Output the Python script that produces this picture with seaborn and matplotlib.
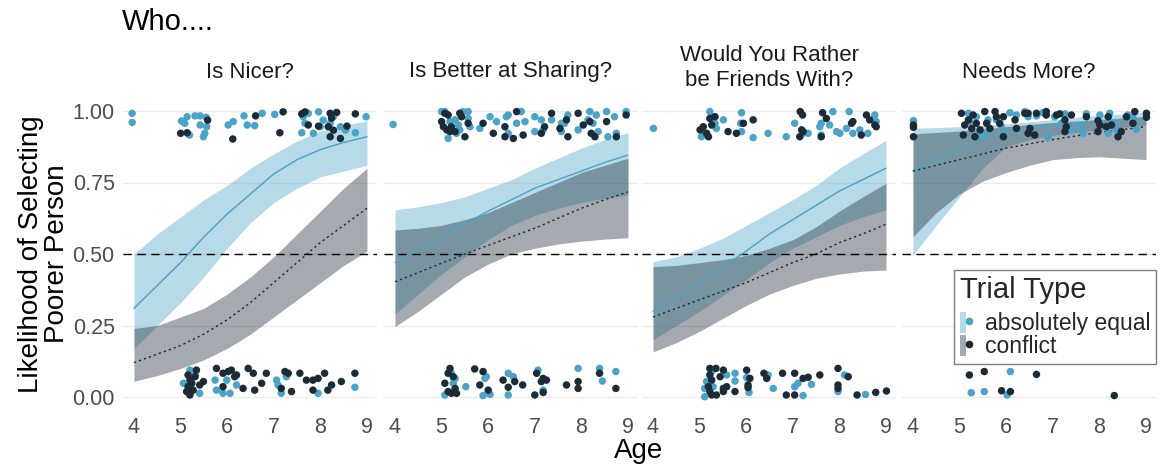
import numpy as np
import pandas as pd
import matplotlib
matplotlib.use("Agg")
import matplotlib.pyplot as plt
import seaborn as sns
from matplotlib.patches import Patch
from matplotlib.lines import Line2D
from matplotlib.legend_handler import HandlerTuple

sns.set_style("white")
plt.rcParams['font.family'] = ['Liberation Sans', 'DejaVu Sans']

# ---------------- data ----------------
panel_titles = ["Is Nicer?", "Is Better at Sharing?", "Would You Rather\nbe Friends With?", "Needs More?"]
trial_types = ["absolutely equal", "conflict"]
y_ticks = [0.0, 0.25, 0.5, 0.75, 1.0]
y_tick_labels = ["0.00", "0.25", "0.50", "0.75", "1.00"]
x_ticks = [4, 5, 6, 7, 8, 9]

fit_ages = [4, 4.5, 5, 5.5, 6, 6.5, 7, 7.5, 8, 8.5, 9]

# Is Nicer?
nicer_eq_fit = [0.31, 0.39, 0.47, 0.56, 0.64, 0.71, 0.78, 0.83, 0.865, 0.89, 0.91]
nicer_eq_lo = [0.17, 0.25, 0.33, 0.42, 0.52, 0.61, 0.68, 0.73, 0.77, 0.79, 0.81]
nicer_eq_hi = [0.50, 0.57, 0.63, 0.69, 0.74, 0.80, 0.85, 0.895, 0.93, 0.95, 0.965]
nicer_cf_fit = [0.12, 0.15, 0.18, 0.22, 0.27, 0.33, 0.40, 0.47, 0.54, 0.60, 0.66]
nicer_cf_lo = [0.055, 0.075, 0.10, 0.13, 0.17, 0.22, 0.28, 0.34, 0.40, 0.46, 0.51]
nicer_cf_hi = [0.24, 0.25, 0.28, 0.31, 0.36, 0.42, 0.49, 0.57, 0.65, 0.73, 0.80]

# Is Better at Sharing?
share_eq_fit = [0.47, 0.515, 0.56, 0.605, 0.65, 0.69, 0.73, 0.76, 0.79, 0.82, 0.846]
share_eq_lo = [0.29, 0.36, 0.43, 0.49, 0.55, 0.60, 0.635, 0.66, 0.68, 0.695, 0.706]
share_eq_hi = [0.654, 0.665, 0.68, 0.70, 0.73, 0.76, 0.80, 0.835, 0.87, 0.90, 0.924]
share_cf_fit = [0.403, 0.435, 0.468, 0.50, 0.53, 0.56, 0.59, 0.625, 0.66, 0.69, 0.717]
share_cf_lo = [0.246, 0.30, 0.36, 0.42, 0.465, 0.50, 0.52, 0.535, 0.545, 0.552, 0.557]
share_cf_hi = [0.584, 0.59, 0.60, 0.62, 0.645, 0.68, 0.715, 0.75, 0.785, 0.81, 0.835]

# Would You Rather be Friends With?
friend_eq_fit = [0.30, 0.35, 0.40, 0.455, 0.51, 0.57, 0.62, 0.67, 0.72, 0.76, 0.80]
friend_eq_lo = [0.20, 0.25, 0.30, 0.355, 0.41, 0.47, 0.52, 0.56, 0.60, 0.63, 0.654]
friend_eq_hi = [0.473, 0.49, 0.52, 0.555, 0.60, 0.645, 0.69, 0.74, 0.80, 0.85, 0.897]
friend_cf_fit = [0.28, 0.31, 0.34, 0.37, 0.40, 0.435, 0.47, 0.50, 0.54, 0.57, 0.604]
friend_cf_lo = [0.158, 0.19, 0.23, 0.275, 0.32, 0.36, 0.39, 0.415, 0.43, 0.44, 0.444]
friend_cf_hi = [0.456, 0.46, 0.47, 0.48, 0.495, 0.52, 0.55, 0.595, 0.65, 0.70, 0.747]

# Needs More?
needs_eq_fit = [0.79, 0.835, 0.87, 0.90, 0.92, 0.937, 0.95, 0.958, 0.965, 0.971, 0.975]
needs_eq_lo = [0.497, 0.60, 0.70, 0.80, 0.875, 0.90, 0.915, 0.925, 0.935, 0.943, 0.95]
needs_eq_hi = [0.94, 0.942, 0.945, 0.95, 0.955, 0.962, 0.97, 0.978, 0.985, 0.99, 0.995]
needs_cf_fit = [0.79, 0.81, 0.83, 0.85, 0.87, 0.885, 0.90, 0.913, 0.925, 0.935, 0.945]
needs_cf_lo = [0.56, 0.645, 0.71, 0.755, 0.785, 0.81, 0.83, 0.837, 0.84, 0.835, 0.83]
needs_cf_hi = [0.92, 0.925, 0.93, 0.937, 0.945, 0.953, 0.96, 0.965, 0.97, 0.975, 0.98]

# jittered individual responses (age, response)
nicer_eq_pts = [(3.96,0.992),(3.96,0.960),(5.02,0.965),(5.14,0.980),(5.31,0.983),(5.42,0.983),(5.55,0.978),
    (5.09,0.957),(5.19,0.916),(5.42,0.951),(5.56,0.945),(5.52,0.922),(5.49,0.910),(6.02,0.951),(6.13,0.963),
    (6.36,0.983),(6.43,0.951),(6.59,0.949),(6.75,0.992),(7.02,0.988),(7.60,0.924),(7.67,0.957),(7.85,0.922),
    (7.96,0.997),(8.06,0.968),(8.21,0.957),(8.28,0.980),(8.43,0.945),(8.54,0.933),(7.74,0.992),(8.75,0.924),
    (8.98,0.980),(8.00,0.945),(7.63,0.980),
    (5.06,0.048),(5.20,0.094),(5.31,0.077),(5.41,0.013),(5.74,0.059),(5.77,0.024),(5.91,0.013),(5.99,0.059),
    (6.06,0.013),(6.20,0.042),(7.06,0.059),(7.09,0.042),(7.16,0.013),(7.27,0.071),(7.95,0.013),(8.74,0.034)]
nicer_cf_pts = [(5.00,0.922),(5.14,0.924),(5.58,0.968),(6.12,0.902),(6.61,0.983),(7.13,0.924),(7.20,0.997),
    (7.60,0.990),(7.67,0.997),(7.74,0.951),(7.96,0.947),(8.17,0.945),(8.21,0.992),(8.24,0.975),(8.28,0.933),
    (8.21,0.910),(8.35,0.995),(8.43,0.904),(8.57,0.947),(8.75,0.990),
    (5.16,0.077),(5.20,0.059),(5.16,0.036),(5.20,0.007),(5.27,0.024),(5.34,0.094),(5.41,0.042),(5.49,0.054),
    (5.77,0.100),(5.91,0.083),(5.91,0.036),(6.02,0.089),(6.09,0.094),(6.16,0.071),(6.20,0.077),(6.34,0.030),
    (6.45,0.100),(6.56,0.083),(6.59,0.024),(6.74,0.048),(6.84,0.083),(7.16,0.030),(7.24,0.089),(7.31,0.083),
    (7.38,0.019),(7.56,0.083),(7.70,0.059),(7.84,0.059),(7.84,0.024),(7.95,0.065),(8.09,0.083),(8.16,0.024),
    (8.24,0.042),(8.45,0.054),(8.74,0.083),(5.24,0.048),(5.13,0.019),(5.31,0.071)]

share_eq_pts = [(3.96,0.953),(5.00,0.998),(5.07,0.998),(5.18,0.963),(5.29,0.969),(5.14,0.904),(5.32,0.922),
    (5.39,0.934),(5.46,0.998),(5.57,0.998),(5.57,0.974),(5.61,0.945),(5.36,0.951),(5.82,0.939),(6.04,0.980),
    (6.18,0.963),(6.39,0.980),(6.43,0.986),(6.43,0.922),(6.61,0.957),(6.71,0.998),(6.79,0.963),(7.00,0.980),
    (7.00,0.928),(7.18,0.934),(7.14,0.969),(7.36,0.969),(7.57,0.957),(7.57,0.928),(7.64,0.957),(7.71,0.986),
    (7.93,0.934),(8.14,0.969),(8.18,0.998),(8.25,0.957),(8.32,0.986),(8.36,0.928),(8.54,0.998),(8.57,0.910),
    (8.71,0.980),(8.75,0.922),(8.96,0.998),
    (5.21,0.083),(5.29,0.065),(5.25,0.048),(5.07,0.007),(5.52,0.036),(5.89,0.005),(6.04,0.009),(5.93,0.065),
    (5.96,0.071),(6.43,0.083),(6.54,0.071),(6.43,0.007),(7.07,0.094),(7.18,0.024),(7.93,0.100),(8.39,0.100),
    (8.45,0.056),(8.74,0.089)]
share_cf_pts = [(5.07,0.992),(5.14,0.986),(5.00,0.963),(5.04,0.945),(5.11,0.934),(5.21,0.945),(5.18,0.928),
    (5.43,0.980),(5.50,0.910),(5.57,0.957),(5.39,0.992),(5.29,0.928),(5.89,0.957),(6.11,0.922),(6.36,0.945),
    (6.36,0.910),(6.54,0.904),(6.61,0.998),(6.75,0.916),(7.14,0.922),(7.21,0.945),(7.36,0.992),(7.54,0.939),
    (7.71,0.910),(7.93,0.992),(8.04,0.951),(8.18,0.963),(8.21,0.922),(8.29,0.910),(8.54,0.963),(8.75,0.910),
    (8.96,0.986),(7.68,0.969),
    (5.18,0.100),(5.14,0.083),(5.07,0.048),(5.25,0.071),(5.14,0.019),(5.21,0.013),(5.32,0.013),(5.29,0.030),
    (5.71,0.098),(5.89,0.089),(5.82,0.042),(6.00,0.024),(6.32,0.059),(6.43,0.034),(6.57,0.054),(6.74,0.042),
    (7.04,0.083),(7.18,0.065),(7.25,0.059),(7.14,0.054),(7.18,0.016),(7.00,0.007),(7.68,0.042),(7.93,0.054),
    (7.93,0.030),(8.39,0.083),(8.74,0.030)]

friend_eq_pts = [(4.01,0.939),(5.22,0.998),(5.26,0.980),(5.33,0.957),(5.04,0.910),(5.11,0.922),(5.36,0.939),
    (5.51,0.969),(5.90,0.994),(5.88,0.957),(5.90,0.928),(6.15,0.907),(6.47,0.922),(6.86,0.910),(7.04,0.957),
    (7.22,0.922),(7.33,0.922),(7.61,0.957),(7.61,0.916),(7.58,0.945),(7.86,0.998),(7.79,0.951),(7.94,0.928),
    (8.01,0.922),(8.21,0.998),(8.15,0.939),(8.29,0.922),(8.44,0.934),(8.61,0.922),(8.76,0.986),(8.79,0.963),
    (5.26,0.089),(5.15,0.054),(5.11,0.030),(5.11,0.001),(5.29,0.036),(5.58,0.077),(5.76,0.083),(5.76,0.056),
    (6.01,0.068),(6.06,0.016),(6.47,0.077),(6.58,0.030),(7.04,0.036),(7.11,0.048),(7.22,0.005),(7.40,0.044),
    (8.11,0.077),(7.97,0.019),(8.56,0.009)]
friend_cf_pts = [(5.22,0.974),(5.33,0.980),(5.08,0.945),(5.15,0.922),(5.01,0.934),(5.19,0.910),(5.26,0.951),
    (5.61,0.928),(5.79,0.922),(5.94,0.957),(6.15,0.969),(7.16,0.998),(7.21,0.986),(7.19,0.934),(7.15,0.910),
    (7.22,0.928),(7.64,0.994),(7.61,0.910),(7.72,0.974),(8.26,0.957),(8.29,0.963),(8.58,0.986),(8.65,0.969),
    (8.76,0.951),(8.79,0.945),(8.47,0.916),
    (5.22,0.100),(5.35,0.100),(5.22,0.077),(5.26,0.059),(5.51,0.094),(5.44,0.071),(5.19,0.036),(5.22,0.019),
    (5.26,0.007),(5.36,0.007),(5.51,0.030),(5.58,0.036),(5.51,0.019),(5.76,0.019),(6.01,0.094),(6.08,0.065),
    (6.04,0.042),(6.04,0.033),(6.38,0.083),(6.44,0.065),(6.78,0.083),(7.04,0.083),(6.86,0.007),(7.04,0.007),
    (7.22,0.065),(7.33,0.069),(7.58,0.077),(7.97,0.100),(8.19,0.071),(7.97,0.042),(7.97,0.030),(8.38,0.007),
    (8.78,0.016),(9.01,0.021)]

needs_eq_pts = [(4.01,0.966),(5.19,0.992),(5.22,0.963),(5.36,0.980),(5.44,0.916),(5.54,0.922),(5.61,0.969),
    (5.79,0.969),(5.90,0.945),(5.94,0.922),(6.08,0.994),(6.22,0.986),(6.40,0.998),(6.47,0.980),(6.58,0.922),
    (6.65,0.983),(6.79,0.994),(6.90,0.908),(7.04,0.980),(7.19,0.957),(7.26,0.990),(7.40,0.934),(7.61,0.945),
    (7.65,0.922),(7.72,0.990),(8.01,0.986),(8.22,0.992),(8.19,0.922),(8.29,0.957),(8.36,0.934),(8.61,0.986),
    (8.72,0.978),(8.79,0.936),
    (5.25,0.015),(5.53,0.019),(6.09,0.089),(6.02,0.007)]
needs_cf_pts = [(4.01,0.951),(4.01,0.943),(4.01,0.910),(5.04,0.992),(5.11,0.951),(5.19,0.969),(5.26,0.939),
    (5.29,0.986),(5.33,0.910),(5.08,0.916),(5.36,0.957),(5.44,0.934),(5.54,0.998),(5.58,0.957),(5.65,0.939),
    (5.76,0.998),(5.79,0.980),(5.86,0.957),(5.94,0.980),(5.94,0.910),(6.19,0.969),(6.22,0.939),(6.40,0.992),
    (6.47,0.992),(6.51,0.939),(6.47,0.922),(6.61,0.916),(6.65,0.992),(6.86,0.998),(7.08,0.986),(7.15,0.990),
    (7.26,0.969),(7.26,0.928),(7.29,0.945),(7.40,0.986),(7.72,0.980),(7.97,0.966),(8.01,0.951),(8.19,0.980),
    (8.15,0.945),(8.26,0.951),(8.40,0.910),(8.47,0.928),(8.58,0.980),(8.76,0.998),(8.72,0.957),(9.01,0.992),
    (9.01,0.978),(7.97,0.928),(6.86,0.986),
    (5.21,0.077),(5.53,0.089),(6.65,0.079),(5.90,0.022),(6.09,0.019),(8.32,0.005)]

fits = [
    (nicer_eq_fit, nicer_eq_lo, nicer_eq_hi, nicer_cf_fit, nicer_cf_lo, nicer_cf_hi),
    (share_eq_fit, share_eq_lo, share_eq_hi, share_cf_fit, share_cf_lo, share_cf_hi),
    (friend_eq_fit, friend_eq_lo, friend_eq_hi, friend_cf_fit, friend_cf_lo, friend_cf_hi),
    (needs_eq_fit, needs_eq_lo, needs_eq_hi, needs_cf_fit, needs_cf_lo, needs_cf_hi),
]
points = [(nicer_eq_pts, nicer_cf_pts), (share_eq_pts, share_cf_pts),
          (friend_eq_pts, friend_cf_pts), (needs_eq_pts, needs_cf_pts)]

# ---------------- style ----------------
c_eq = "#4ba3c7"
c_cf = "#1c2b38"
palette = {trial_types[0]: c_eq, trial_types[1]: c_cf}
ribbon_alpha = 0.4
tick_color = "#4d4d4d"
grid_color = "#ebebeb"

W, H = 1162, 466
fig = plt.figure(figsize=(W / 100, H / 100), dpi=100)

panel_left_px = [123, 384, 642, 902]
panel_w_px = 254
panel_top_px, panel_bot_px = 96.7, 411.3

axes = []
for i in range(4):
    ax = fig.add_axes([panel_left_px[i] / W, 1 - panel_bot_px / H,
                       panel_w_px / W, (panel_bot_px - panel_top_px) / H])
    axes.append(ax)
    eq_fit, eq_lo, eq_hi, cf_fit, cf_lo, cf_hi = fits[i]

    # ribbons
    ax.fill_between(fit_ages, eq_lo, eq_hi, color=c_eq, alpha=ribbon_alpha, lw=0, zorder=1)
    ax.fill_between(fit_ages, cf_lo, cf_hi, color=c_cf, alpha=ribbon_alpha, lw=0, zorder=1.1)

    # fitted lines
    fit_df = pd.DataFrame({
        "age": list(fit_ages) * 2,
        "prob": list(eq_fit) + list(cf_fit),
        "type": [trial_types[0]] * len(fit_ages) + [trial_types[1]] * len(fit_ages),
    })
    sns.lineplot(data=fit_df, x="age", y="prob", hue="type", style="type", palette=palette,
                 dashes={trial_types[0]: "", trial_types[1]: (1.6, 2.2)}, linewidth=1.0,
                 legend=False, ax=ax, zorder=3)

    ax.axhline(0.5, color="black", lw=1.0, ls=(0, (6, 4)), zorder=2.5)

    # points
    eq_pts, cf_pts = points[i]
    pt_df = pd.DataFrame(
        [(a, v, trial_types[0]) for a, v in eq_pts] + [(a, v, trial_types[1]) for a, v in cf_pts],
        columns=["age", "resp", "type"])
    sns.scatterplot(data=pt_df, x="age", y="resp", hue="type", palette=palette, s=29,
                    linewidth=0, legend=False, ax=ax, zorder=4)

    ax.set_xlim(3.764, 9.215)
    ax.set_ylim(-0.05, 1.05)
    ax.set_xticks(x_ticks)
    ax.set_xticklabels([str(t) for t in x_ticks], fontsize=15.5, color=tick_color)
    ax.set_yticks(y_ticks)
    if i == 0:
        ax.set_yticklabels(y_tick_labels, fontsize=15.5, color=tick_color)
    else:
        ax.set_yticklabels([])
    ax.tick_params(axis="both", length=0)
    ax.tick_params(axis="x", pad=4)
    ax.tick_params(axis="y", pad=6)
    ax.set_xlabel("")
    ax.set_ylabel("")
    ax.grid(axis="y", color=grid_color, lw=1.0)
    ax.grid(axis="x", visible=False)
    ax.set_axisbelow(True)
    for s in ax.spines.values():
        s.set_visible(False)

    # strip title
    cx = (panel_left_px[i] + panel_w_px / 2) / W
    if "\n" in panel_titles[i]:
        fig.text(cx, 1 - 68 / H, panel_titles[i], ha="center", va="center",
                 fontsize=16, linespacing=1.2, color="#1a1a1a")
    else:
        fig.text(cx, 1 - 72 / H, panel_titles[i], ha="center", va="center",
                 fontsize=16, color="#1a1a1a")

fig.text(122 / W, 1 - 22 / H, "Who....", ha="left", va="center", fontsize=21, color="black")
fig.text(639 / W, 1 - 451 / H, "Age", ha="center", va="center", fontsize=20, color="black")
fig.text(44 / W, 1 - 254 / H, "Likelihood of Selecting\nPoorer Person", ha="center", va="center",
         rotation=90, fontsize=20, linespacing=1.0, color="black")

# legend
h_eq = (Patch(facecolor=c_eq, alpha=ribbon_alpha, edgecolor="none"),
        Line2D([], [], marker="o", ls="", color=c_eq, markersize=4.5))
h_cf = (Patch(facecolor=c_cf, alpha=ribbon_alpha, edgecolor="none"),
        Line2D([], [], marker="o", ls="", color=c_cf, markersize=4.5))
leg = fig.legend([h_eq, h_cf], trial_types, title="Trial Type",
                 handler_map={tuple: HandlerTuple(ndivide=None, pad=0)},
                 loc="upper left", bbox_to_anchor=(954 / W, 1 - 270 / H),
                 fontsize=16.5, title_fontsize=21, frameon=True, fancybox=False,
                 edgecolor="#7f7f7f", framealpha=1, borderpad=0.25,
                 handlelength=0.55, handleheight=1.0, handletextpad=0.55,
                 labelspacing=0.0, alignment="left", borderaxespad=0)
leg.get_frame().set_linewidth(1.0)
leg._legend_box.sep = 6

fig.savefig("out.png", dpi=100)
